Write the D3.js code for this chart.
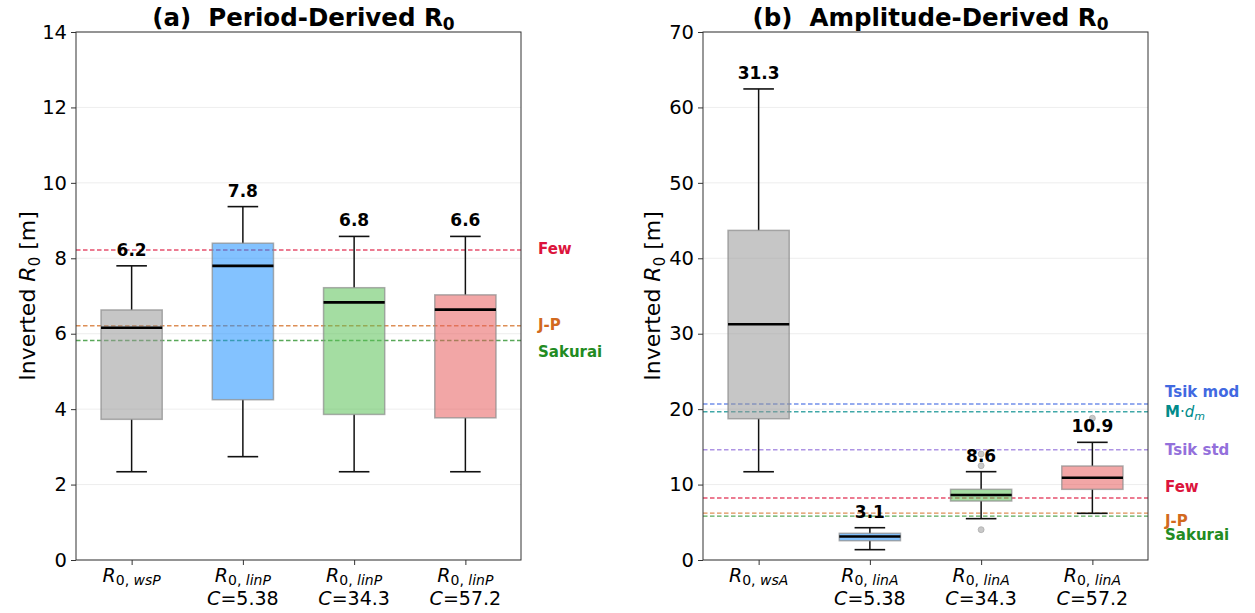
<!DOCTYPE html>
<html>
<head>
<meta charset="utf-8">
<script src="https://cdn.jsdelivr.net/npm/d3@7/dist/d3.min.js"></script>
<style>
  html, body { margin: 0; padding: 0; background: #fff; }
  svg { display: block; font-family: "DejaVu Sans", sans-serif; }
  text { white-space: pre; }
</style>
</head>
<body>
<svg id="chart" width="1255" height="613"></svg>
<script>
// ---- Period-derived R0 box statistics ----
const periodSub = ["wsP", "linP", "linP", "linP"];
const periodC = [null, "5.38", "34.3", "57.2"];
const periodLo = [2.34, 2.74, 2.34, 2.34];
const periodQ1 = [3.73, 4.25, 3.86, 3.77];
const periodMed = [6.16, 7.80, 6.83, 6.64];
const periodQ3 = [6.63, 8.40, 7.22, 7.03];
const periodHi = [7.80, 9.37, 8.58, 8.58];
const periodOut = [[], [], [], []];
const periodTicks = [0, 2, 4, 6, 8, 10, 12, 14];

// ---- Amplitude-derived R0 box statistics ----
const ampSub = ["wsA", "linA", "linA", "linA"];
const ampC = [null, "5.38", "34.3", "57.2"];
const ampLo = [11.7, 1.37, 5.48, 6.19];
const ampQ1 = [18.73, 2.56, 7.82, 9.37];
const ampMed = [31.26, 3.12, 8.62, 10.91];
const ampQ3 = [43.7, 3.54, 9.37, 12.46];
const ampHi = [62.45, 4.28, 11.71, 15.6];
const ampOut = [[], [], [14.05, 12.5, 4.02], [18.8]];
const ampTicks = [0, 10, 20, 30, 40, 50, 60, 70];

// ---- Reference R0 values ----
const periodRefNames = ["Few", "J-P", "Sakurai"];
const periodRefVals = [8.22, 6.21, 5.82];
const ampRefNames = ["Tsik mod", "M·dm", "Tsik std", "Few", "J-P", "Sakurai"];
const ampRefVals = [20.68, 19.66, 14.62, 8.22, 6.21, 5.82];

// styling
const boxColors = ["#979797", "#1e90ff", "#5ac156", "#e75d5d"];
const refColor = {
  "Few": "#dc143c", "J-P": "#d2691e", "Sakurai": "#228b22",
  "Tsik mod": "#4169e1", "M·dm": "#008b8b", "Tsik std": "#9370db"
};
// vertical nudges (px) that keep the side labels apart
const periodLabelNudge = [-1, -1, 11];
const ampLabelNudge = [-12, 0, 0, -11, 8, 19];

const svg = d3.select("#chart");
const plotTop = 32, plotBottom = 560;

function panel(cfg) {
  const g = svg.append("g");
  const x = d3.scaleLinear().domain([0.5, 4.5]).range([cfg.left, cfg.right]);
  const y = d3.scaleLinear().domain([0, cfg.ymax]).range([plotBottom, plotTop]);
  const step = x(2) - x(1);
  const bw = step * 0.55, cw = bw * 0.5;

  // faint horizontal grid
  g.append("g").selectAll("line").data(cfg.ticks).join("line")
    .attr("x1", cfg.left).attr("x2", cfg.right)
    .attr("y1", d => y(d)).attr("y2", d => y(d))
    .attr("stroke", "#e8e8e8").attr("stroke-width", 0.8);

  // reference lines
  g.append("g").selectAll("line").data(cfg.refVals).join("line")
    .attr("x1", cfg.left).attr("x2", cfg.right)
    .attr("y1", d => y(d)).attr("y2", d => y(d))
    .attr("stroke", (d, i) => refColor[cfg.refNames[i]])
    .attr("stroke-opacity", 0.75)
    .attr("stroke-width", 1.4)
    .attr("stroke-dasharray", "4.5,2.5");

  const idx = d3.range(4);
  const boxes = g.append("g").selectAll("g").data(idx).join("g");
  // whiskers
  boxes.append("line")
    .attr("x1", i => x(i + 1)).attr("x2", i => x(i + 1))
    .attr("y1", i => y(cfg.hi[i])).attr("y2", i => y(cfg.q3[i]))
    .attr("stroke", "#111").attr("stroke-width", 1.5);
  boxes.append("line")
    .attr("x1", i => x(i + 1)).attr("x2", i => x(i + 1))
    .attr("y1", i => y(cfg.lo[i])).attr("y2", i => y(cfg.q1[i]))
    .attr("stroke", "#111").attr("stroke-width", 1.5);
  // caps
  [cfg.hi, cfg.lo].forEach(arr => {
    boxes.append("line")
      .attr("x1", i => x(i + 1) - cw / 2).attr("x2", i => x(i + 1) + cw / 2)
      .attr("y1", i => y(arr[i])).attr("y2", i => y(arr[i]))
      .attr("stroke", "#111").attr("stroke-width", 1.6);
  });
  // boxes
  boxes.append("rect")
    .attr("x", i => x(i + 1) - bw / 2).attr("width", bw)
    .attr("y", i => y(cfg.q3[i])).attr("height", i => y(cfg.q1[i]) - y(cfg.q3[i]))
    .attr("fill", i => boxColors[i]).attr("fill-opacity", 0.55)
    .attr("stroke", "#8c8c8c").attr("stroke-opacity", 0.7).attr("stroke-width", 1.5);
  // medians
  boxes.append("line")
    .attr("x1", i => x(i + 1) - bw / 2).attr("x2", i => x(i + 1) + bw / 2)
    .attr("y1", i => y(cfg.med[i])).attr("y2", i => y(cfg.med[i]))
    .attr("stroke", "#000").attr("stroke-width", 2.6);
  // outliers
  boxes.selectAll("circle").data(i => cfg.out[i].map(v => [i, v])).join("circle")
    .attr("cx", d => x(d[0] + 1)).attr("cy", d => y(d[1])).attr("r", 3)
    .attr("fill", "#b0b0b0").attr("fill-opacity", 0.7)
    .attr("stroke", "#a0a0a0").attr("stroke-opacity", 0.6);
  // median value labels
  const fmt = d3.format(".1f");
  boxes.append("text")
    .attr("x", i => x(i + 1)).attr("y", i => y(cfg.hi[i]) - 10)
    .attr("text-anchor", "middle")
    .attr("font-size", 17).attr("font-weight", "bold").attr("fill", "#000")
    .text(i => fmt(cfg.med[i]));

  // frame
  g.append("rect")
    .attr("x", cfg.left).attr("y", plotTop)
    .attr("width", cfg.right - cfg.left).attr("height", plotBottom - plotTop)
    .attr("fill", "none").attr("stroke", "#333").attr("stroke-width", 1);

  // y axis
  const yAxis = d3.axisLeft(y).tickValues(cfg.ticks).tickSize(5).tickPadding(4);
  const ya = g.append("g").attr("transform", `translate(${cfg.left},0)`).call(yAxis);
  ya.select(".domain").remove();
  ya.selectAll(".tick line").attr("stroke", "#333");
  ya.selectAll(".tick text").attr("font-size", 19.5).attr("fill", "#000")
    .attr("font-family", "DejaVu Sans, sans-serif");

  // x axis with mathtext-like labels
  const xAxis = d3.axisBottom(x).tickValues([1, 2, 3, 4]).tickSize(5).tickFormat("");
  const xa = g.append("g").attr("transform", `translate(0,${plotBottom})`).call(xAxis);
  xa.select(".domain").remove();
  xa.selectAll(".tick line").attr("stroke", "#333");
  idx.forEach(i => {
    const t = g.append("text").attr("x", x(i + 1)).attr("y", 582)
      .attr("text-anchor", "middle").attr("font-size", 19).attr("fill", "#000");
    t.append("tspan").attr("font-style", "italic").text("R");
    t.append("tspan").attr("font-size", 14).attr("dy", 3).text("0, ");
    t.append("tspan").attr("font-size", 14).attr("font-style", "italic").text(cfg.sub[i]);
    if (cfg.c[i]) {
      const c = g.append("text").attr("x", x(i + 1)).attr("y", 605)
        .attr("text-anchor", "middle").attr("font-size", 19).attr("fill", "#000");
      c.append("tspan").attr("font-style", "italic").text("C");
      c.append("tspan").text("=" + cfg.c[i]);
    }
  });

  // y label
  const yl = g.append("text")
    .attr("transform", `translate(${cfg.ylabelX},${(plotTop + plotBottom) / 2}) rotate(-90)`)
    .attr("text-anchor", "middle").attr("font-size", 22).attr("fill", "#000");
  yl.append("tspan").text("Inverted ");
  yl.append("tspan").attr("font-style", "italic").text("R");
  yl.append("tspan").attr("font-size", 15).attr("dy", 5).text("0");
  yl.append("tspan").attr("dy", -5).text(" [m]");

  // title
  const tt = g.append("text").attr("x", (cfg.left + cfg.right) / 2 + 5).attr("y", 26)
    .attr("text-anchor", "middle").attr("font-size", 24.5).attr("font-weight", "bold").attr("fill", "#000");
  tt.append("tspan").text(cfg.title);
  tt.append("tspan").attr("font-size", 17).attr("dy", 4).text("0");

  // reference labels beside the panel
  cfg.refNames.forEach((name, i) => {
    const ty = y(cfg.refVals[i]) + cfg.nudge[i] + 5;
    const t = g.append("text").attr("x", cfg.right + 17).attr("y", ty)
      .attr("font-size", 15).attr("font-weight", "bold").attr("fill", refColor[name]);
    if (name === "M·dm") {
      t.append("tspan").text("M");
      t.append("tspan").attr("font-weight", "normal").text("·");
      t.append("tspan").attr("font-weight", "normal").attr("font-style", "italic").text("d");
      t.append("tspan").attr("font-weight", "normal").attr("font-style", "italic")
        .attr("font-size", 11).attr("dy", 3).text("m");
    } else {
      t.text(name);
    }
  });
}

panel({
  left: 76, right: 521, ymax: 14, ticks: periodTicks,
  lo: periodLo, q1: periodQ1, med: periodMed, q3: periodQ3, hi: periodHi, out: periodOut,
  sub: periodSub, c: periodC, refNames: periodRefNames, refVals: periodRefVals,
  nudge: periodLabelNudge, ylabelX: 35, title: "(a)  Period-Derived R"
});

panel({
  left: 703, right: 1148, ymax: 70, ticks: ampTicks,
  lo: ampLo, q1: ampQ1, med: ampMed, q3: ampQ3, hi: ampHi, out: ampOut,
  sub: ampSub, c: ampC, refNames: ampRefNames, refVals: ampRefVals,
  nudge: ampLabelNudge, ylabelX: 660, title: "(b)  Amplitude-Derived R"
});
</script>
</body>
</html>
